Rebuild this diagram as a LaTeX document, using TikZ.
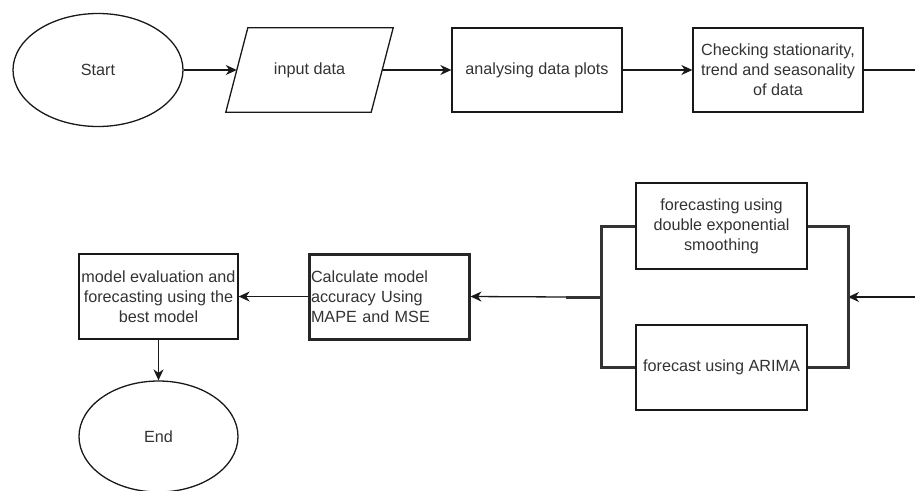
\documentclass[tikz,border=0pt]{standalone}
\usepackage{fontspec}
\setmainfont{Liberation Sans}
\usetikzlibrary{shapes.geometric,arrows.meta}
\begin{document}
\begin{tikzpicture}[x=1pt,y=-1pt,
  every node/.style={font=\fontsize{16.2}{20}\selectfont, text=black!80, inner sep=0pt},
  flow/.style={draw=black!90, line width=1.3pt},
  stepbox/.style={flow, rectangle, align=center},
  term/.style={flow, ellipse},
  arr/.style={line width=1.3pt, draw=black!90, -{Stealth[length=11pt,width=10pt,inset=3.5pt]}},
  link/.style={line width=1.3pt, draw=black!90},
  bracket/.style={line width=3pt, draw=black!80}
]
\useasboundingbox (0,0) rectangle (915,490);

% top row
\node[term, minimum width=170pt, minimum height=113pt] (start) at (98,70) {Start};
% input: a parallelogram drawn around a plain node (anchors at mid-height of the slanted sides)
\node[minimum width=145pt, minimum height=84pt] (input) at (309.5,70) {input data};
\draw[flow] ([xshift=-11pt]input.south west) -- ([xshift=11pt]input.north west)
  -- ([xshift=11pt]input.north east) -- ([xshift=-11pt]input.south east) -- cycle;
\node[stepbox, minimum width=170pt, minimum height=84pt] (plots) at (537,70) {analysing data plots};
\node[stepbox, minimum width=170pt, minimum height=84pt] (check) at (778,70)
  {Checking stationarity,\\trend and seasonality\\of data};
\coordinate (outR) at (915,70);

% model branch
\node[stepbox, minimum width=171pt, minimum height=86pt] (dexp) at (721.5,226)
  {forecasting using\\double exponential\\smoothing};
\node[stepbox, minimum width=171pt, minimum height=85pt] (arima) at (721.5,367.5)
  {forecast using ARIMA};
\coordinate (inR) at (915,297);
\coordinate (joinR) at (848,297);
\coordinate (joinL) at (601,297);
\coordinate (stub) at (566,297);

% bottom row
\node[draw=black!85, line width=3pt, minimum width=160pt, minimum height=85pt,
      text width=156pt, align=left] (calc) at (389,296.5)
  {Calculate model\\accuracy Using\\MAPE and MSE};
\node[stepbox, minimum width=159pt, minimum height=85pt] (model) at (158.5,296.5)
  {model evaluation and\\forecasting using the\\best model};
\node[term, minimum width=159pt, minimum height=111pt] (end) at (158.5,436.5) {End};

% connectors
\draw[arr] (start.east) -- (input.west);
\draw[arr] (input.east) -- (plots.west);
\draw[arr] (plots.east) -- (check.west);
\draw[link] (check.east) -- (outR);

\draw[arr] (inR) -- (joinR);
\draw[bracket] (dexp.east) -| (joinR) |- (arima.east);
\draw[bracket] (dexp.west) -| (joinL) |- (arima.west);
\draw[bracket] (joinL) -- (stub);
\draw[arr] (stub) -- (calc.east);
\draw[arr] (calc.west) -- (model.east);
\draw[arr] (model.south) -- (end.north);
\end{tikzpicture}
\end{document}
